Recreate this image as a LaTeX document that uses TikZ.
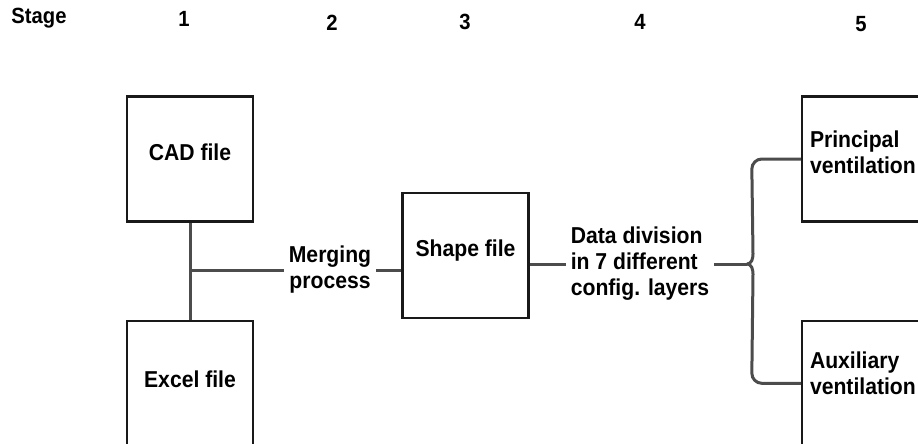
\documentclass[tikz,border=0pt]{standalone}
\usepackage{fontspec}
\setmainfont{Liberation Sans}[FakeStretch=0.92]
\usetikzlibrary{positioning}

\begin{document}
\begin{tikzpicture}[x=1pt, y=1pt, node distance=97pt,
  every node/.style={font=\fontsize{23}{26}\selectfont\bfseries, align=center, inner sep=5pt},
  box/.style={draw=black!90, line width=2.3pt, minimum width=126pt, minimum height=125pt, inner sep=0pt},
  link/.style={draw=black!70, line width=3pt},
  head/.style={font=\fontsize{22}{24}\selectfont\bfseries}]
\useasboundingbox (0,0) rectangle (918,-444);
\clip (0,0) rectangle (918,-444);
% stage row
\node (stage) [head] at (39,-18) {Stage};
\node (n1) [head] at (184,-19) {1};
\node (n2) [head] at (332,-23) {2};
\node (n3) [head] at (465,-22) {3};
\node (n4) [head] at (640,-22) {4};
\node (n5) [head] at (861,-24) {5};
% inputs
\node (cad) [box, text depth=13pt] at (190,-159) {CAD file};
\node (excel) [box, text depth=8pt, below=of cad] {Excel file};
\node (merging) at (330,-270) {Merging\\process};
\node (shape) [box, text depth=14pt] at (465.5,-255.5) {Shape file};
\node (division) [align=left] at (640,-264) {Data division\\in 7 different\\config. layers};
\coordinate (tip) at (747,-264);
% outputs
\node (principal) [box, text width=110pt, align=left, text depth=39pt] at (865,-159) {Principal\\ventilation};
\node (auxiliary) [box, text width=110pt, align=left, text depth=46pt, below=of principal] {Auxiliary\\ventilation};
\coordinate (join) at (cad.south |- merging);
\draw[link] (cad) -- (excel);
\draw[link] (join) -- (merging);
\draw[link] (merging) -- (merging -| shape.west);
\draw[link] (shape.east |- division) -- (division);
\draw[link] (division) -- (tip);
\draw[link] (principal.west) -- ++(-39,0) to[out=180,in=90] ++(-10,-10) -- ([xshift=6pt,yshift=10pt]tip) to[out=-90,in=0] (tip);
\draw[link] (auxiliary.west) -- ++(-39,0) to[out=180,in=-90] ++(-10,10) -- ([xshift=6pt,yshift=-10pt]tip) to[out=90,in=0] (tip);
\end{tikzpicture}
\end{document}
